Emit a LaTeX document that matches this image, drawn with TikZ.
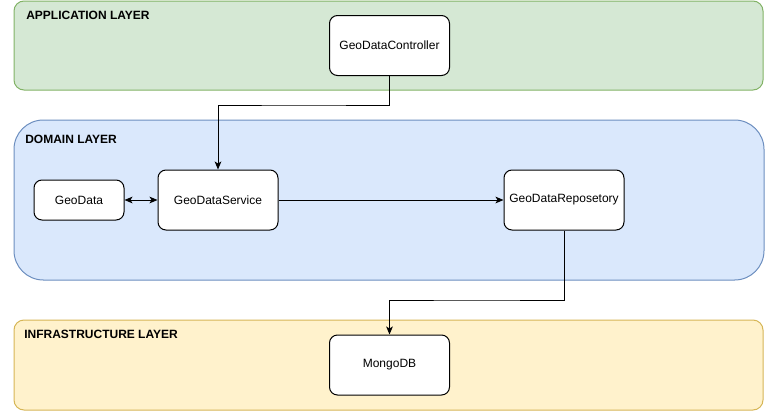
\documentclass[tikz,border=0pt]{standalone}
\usepackage{fontspec}
\setmainfont{Liberation Sans}
\usetikzlibrary{arrows.meta}
\definecolor{appfill}{HTML}{D5E8D4}
\definecolor{appline}{HTML}{82B366}
\definecolor{domfill}{HTML}{DAE8FC}
\definecolor{domline}{HTML}{6C8EBF}
\definecolor{infill}{HTML}{FFF2CC}
\definecolor{inline}{HTML}{D6B656}
\tikzset{
  layer/.style={line width=0.75pt},
  layertitle/.style={anchor=west, inner sep=0pt, font=\fontsize{9}{10}\selectfont\bfseries},
  comp/.style={draw, fill=white, rounded corners=6pt, line width=0.75pt,
    minimum width=90pt, minimum height=45pt, inner sep=0pt,
    font=\fontsize{9}{10}\selectfont},
  link/.style={line width=0.75pt, -{Stealth[length=6pt,width=5pt,inset=1.5pt]}},
}
\begin{document}
\begin{tikzpicture}[x=0.75pt,y=-0.75pt]
\useasboundingbox (0,0) rectangle (765,411);
% layers
\draw[layer, fill=appfill, draw=appline, rounded corners=7.5pt] (14,1) rectangle (763,90);
\draw[layer, fill=domfill, draw=domline, rounded corners=22pt] (14,120) rectangle (764,280);
\draw[layer, fill=infill, draw=inline, rounded corners=7.5pt] (14,320) rectangle (763,410);
\node[layertitle] (apptitle) at (26,15) {APPLICATION LAYER};
\node[layertitle] (domtitle) at (25,139) {DOMAIN LAYER};
\node[layertitle] (inftitle) at (24,334) {INFRASTRUCTURE LAYER};
% components
\node[comp] (ctrl) at (389.5,45.5) {GeoDataController};
\node[comp, minimum width=67.5pt, minimum height=30pt] (data) at (79,200) {GeoData};
\node[comp] (svc) at (218,200) {GeoDataService};
\node[comp] (repo) at (564,200) {GeoDataReposetory};
\node[comp] (mongo) at (389.5,365) {MongoDB};
% connectors
\draw[link] (ctrl.south) |- (303.75,105) -| (svc.north);
\draw[link, {Stealth[length=6pt,width=5pt,inset=1.5pt]}-{Stealth[length=6pt,width=5pt,inset=1.5pt]}] (data.east) -- (svc.west);
\draw[link] (svc.east) -- (repo.west);
\draw[link] (repo.south) |- (476.75,300) -| (mongo.north);
\end{tikzpicture}
\end{document}
